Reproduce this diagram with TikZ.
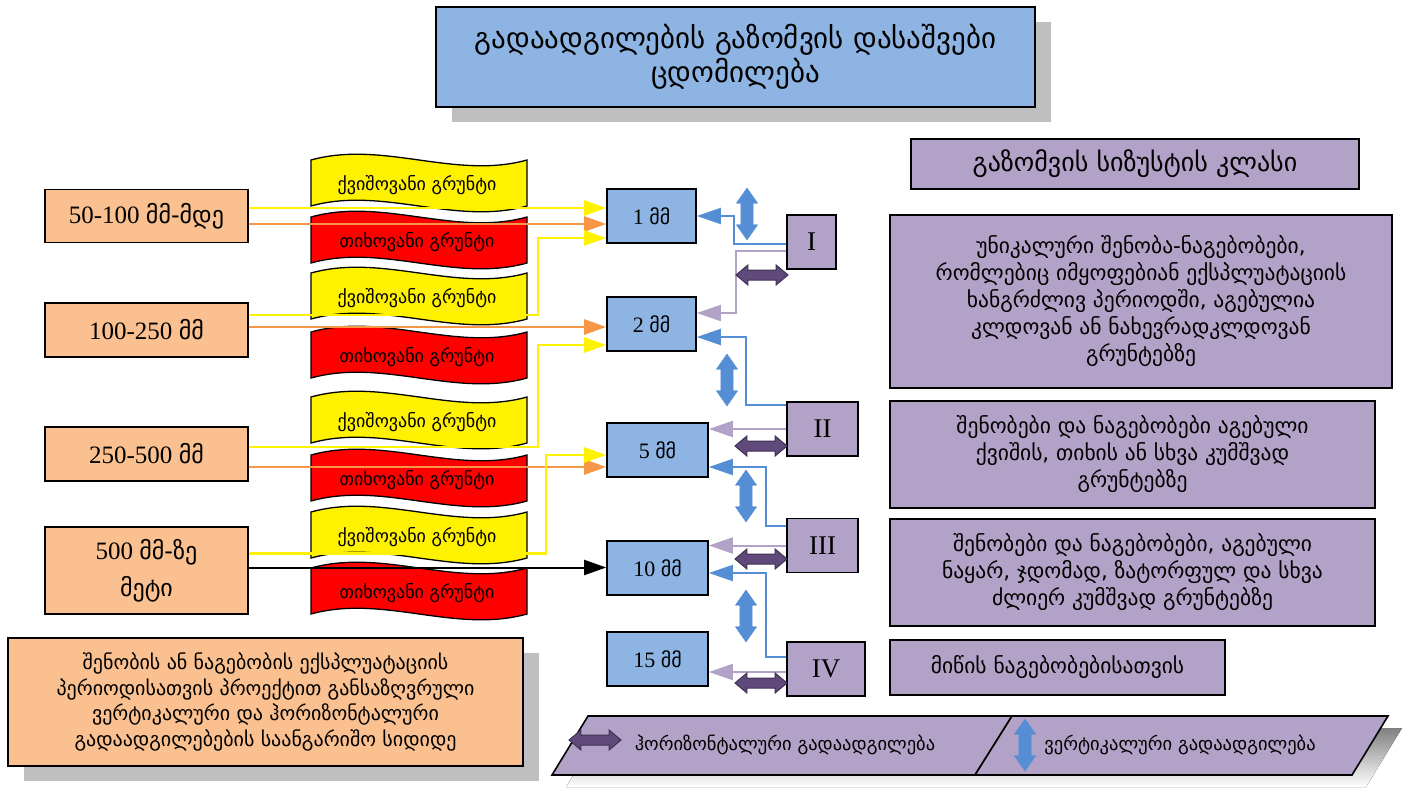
\documentclass[tikz,border=0pt]{standalone}
\usepackage{fontspec}
\setmainfont{Liberation Serif}
\newfontfamily\geo{DejaVu Sans}
\usetikzlibrary{arrows.meta,shapes.arrows,shadows}
\definecolor{skyfill}{RGB}{141,180,226}
\definecolor{peachfill}{RGB}{250,192,144}
\definecolor{lavfill}{RGB}{179,162,199}
\definecolor{lineblue}{RGB}{85,142,213}
\definecolor{lineorange}{RGB}{247,150,70}
\definecolor{darkpur}{RGB}{96,74,123}
\definecolor{darkpurline}{RGB}{63,49,81}
\definecolor{shade}{RGB}{191,191,191}
\newcommand\gm[2][20]{{\geo\fontsize{#1}{#1}\selectfont #2}}

\begin{document}
\begin{tikzpicture}[x=1pt,y=-1pt,
  box/.style={draw,line width=1.6pt,inner sep=0pt,align=center},
  shadowed/.style={drop shadow={shadow xshift=16pt,shadow yshift=-15pt,fill=shade,opacity=1}},
  rangebox/.style={box,fill=peachfill,minimum width=203pt,font=\fontsize{25}{37}\selectfont},
  mm/.style={box,fill=skyfill,minimum height=54pt,font=\fontsize{22}{24}\selectfont},
  cls/.style={box,fill=lavfill,minimum height=54pt,font=\fontsize{27}{29}\selectfont},
  desc/.style={box,fill=lavfill,font=\geo\fontsize{21.5}{27}\selectfont},
  wave/.style={draw,line width=1.3pt},
  soil/.style={font=\geo\fontsize{18}{20}\selectfont},
  leg/.style={font=\geo\fontsize{18.5}{20}\selectfont},
  yel/.style={yellow,line width=2.5pt,-{Triangle[length=22pt,width=15pt]}},
  ora/.style={lineorange,line width=2.5pt,-{Triangle[length=22pt,width=15pt]}},
  blk/.style={black,line width=2pt,-{Triangle[length=22pt,width=15pt]}},
  blu/.style={lineblue,line width=2pt,-{Triangle[length=24pt,width=16pt]}},
  lil/.style={lavfill,line width=2pt,-{Triangle[length=24pt,width=16pt]}},
  vmove/.style={double arrow,draw=lineblue,fill=lineblue,minimum width=0pt,minimum height=52pt,
    inner xsep=0pt,inner ysep=6pt,double arrow head extend=4.5pt,double arrow tip angle=70,rotate=90},
  hmove/.style={double arrow,draw=darkpurline,fill=darkpur,line width=1pt,minimum width=0pt,
    minimum height=52pt,inner xsep=0pt,inner ysep=4.5pt,double arrow head extend=5pt,double arrow tip angle=80}]
\useasboundingbox (0,0) rectangle (1407,787);

\node[box,fill=skyfill,shadowed,minimum width=599pt,minimum height=100pt,font=\geo\fontsize{29}{34}\selectfont] (title) at (735.5,57) {გადაადგილების გაზომვის დასაშვები\\ცდომილება};

\foreach \y/\c/\t [count=\i] in {183/yellow/ქვიშოვანი გრუნტი,240/red/თიხოვანი გრუნტი,296/yellow/ქვიშოვანი გრუნტი,355/red/თიხოვანი გრუნტი,420/yellow/ქვიშოვანი გრუნტი,478/red/თიხოვანი გრუნტი,535/yellow/ქვიშოვანი გრუნტი,591/red/თიხოვანი გრუნტი}{
  \draw[wave,fill=\c] (311,\y-23) .. controls (383,\y-43) and (455,\y-3) .. (527,\y-23) -- (527,\y+23) .. controls (455,\y+43) and (383,\y+3) .. (311,\y+23) -- cycle;
  \node[soil] (s\i) at (417,\y+2) {\t};
}

\node[rangebox,minimum height=53pt] (r50) at (146.5,216) {50-100\ \gm[24]{მმ-მდე}};
\node[rangebox,minimum height=54pt] (r100) at (146.5,330) {100-250\ \gm[24]{მმ}};
\node[rangebox,minimum height=54pt] (r250) at (146.5,454) {250-500\ \gm[24]{მმ}};
\node[rangebox,minimum height=87pt] (r500) at (146.5,570.5) {500\ \gm[24]{მმ-ზე}\\\gm[24]{მეტი}};

\node[mm,minimum width=89pt] (mm1) at (651.5,216) {1\ \gm{მმ}};
\node[mm,minimum width=89pt] (mm2) at (651.5,324) {2\ \gm{მმ}};
\node[mm,minimum width=101pt] (mm5) at (657.5,450) {5\ \gm{მმ}};
\node[mm,minimum width=101pt] (mm10) at (657.5,568) {10\ \gm{მმ}};
\node[mm,minimum width=101pt] (mm15) at (657.5,659) {15\ \gm{მმ}};

\node[cls,minimum width=49pt] (c1) at (811.5,242) {I};
\node[cls,minimum width=71pt] (c2) at (822.5,429) {II};
\node[cls,minimum width=71pt] (c3) at (822.5,545.5) {III};
\node[cls,minimum width=78pt] (c4) at (826,669) {IV};

\node[desc,minimum width=448pt,minimum height=50pt,font=\geo\fontsize{26}{28}\selectfont] (head) at (1135,164) {გაზომვის სიზუსტის კლასი};
\node[desc,minimum width=502pt,minimum height=173pt] (d1) at (1141,301.5) {უნიკალური შენობა-ნაგებობები,\\რომლებიც იმყოფებიან ექსპლუატაციის\\ხანგრძლივ პერიოდში, აგებულია\\კლდოვან ან ნახევრადკლდოვან\\გრუნტებზე};
\node[desc,minimum width=485pt,minimum height=107pt] (d2) at (1132.5,454.5) {შენობები და ნაგებობები აგებული\\ქვიშის, თიხის ან სხვა კუმშვად\\გრუნტებზე};
\node[desc,minimum width=485pt,minimum height=107pt] (d3) at (1132.5,572.5) {შენობები და ნაგებობები, აგებული\\ნაყარ, ჯდომად, ზატორფულ და სხვა\\ძლიერ კუმშვად გრუნტებზე};
\node[desc,minimum width=335pt,minimum height=55pt] (d4) at (1057.5,667.5) {მიწის ნაგებობებისათვის};

\node[box,fill=peachfill,shadowed,minimum width=515pt,minimum height=128pt,font=\geo\fontsize{20}{25.5}\selectfont] (note) at (265.5,702) {შენობის ან ნაგებობის ექსპლუატაციის\\პერიოდისათვის პროექტით განსაზღვრული\\ვერტიკალური და ჰორიზონტალური\\გადაადგილებების საანგარიშო სიდიდე};

\draw[yel] ([yshift=8pt]r50.east) -- ([yshift=8pt]r50.east -| mm1.west);
\draw[ora] ([yshift=-8pt]r50.east) -- ([yshift=-8pt]r50.east -| mm1.west);
\draw[yel] ([yshift=15pt]r100.east) -- ++(289,0) |- ([yshift=-22pt]mm1.west);
\draw[ora] ([yshift=3pt]r100.east) -- ([yshift=3pt]r100.east -| mm2.west);
\draw[yel] ([yshift=7pt]r250.east) -- ++(289,0) |- ([yshift=-21pt]mm2.west);
\draw[ora] ([yshift=-13pt]r250.east) -- ([yshift=-13pt]r250.east -| mm5.west);
\draw[yel] ([yshift=17pt]r500.east) -- ++(297,0) |- ([yshift=-5pt]mm5.west);
\draw[blk] ([yshift=3pt]r500.east) -- ([yshift=3pt]r500.east -| mm10.west);

\draw[blu] ([yshift=-2pt]c1.west) -- ++(-52,0) |- (mm1.east);
\draw[lil] ([yshift=-9pt]c1.west) -- ++(-50,0) |- ([yshift=11pt]mm2.east);
\draw[blu] ([yshift=24pt]c2.west) -- ++(-40,0) |- ([yshift=-13pt]mm2.east);
\draw[lil] (c2.west) -- (c2.west -| mm5.east);
\draw[blu] ([yshift=20pt]c3.west) -- ++(-20,0) |- ([yshift=-17pt]mm5.east);
\draw[lil] (c3.west) -- (c3.west -| mm10.east);
\draw[blu] ([yshift=12pt]c4.west) -- ++(-20,0) |- ([yshift=-5pt]mm10.east);
\draw[lil] ([yshift=-3pt]c4.west) -- ([yshift=-3pt]c4.west -| mm15.east);

\node[vmove] (v1) at (747,214) {};
\node[hmove] (h1) at (762,275) {};
\node[vmove] (v2) at (727,380) {};
\node[hmove] (h2) at (761,446) {};
\node[vmove] (v3) at (746,496) {};
\node[hmove] (h3) at (761,559) {};
\node[vmove] (v4) at (746,616) {};
\node[hmove] (h4) at (761,683) {};

\fill[shade] (566,787) -- (602,728) -- (1402,728) -- (1366,787) -- cycle;
\draw[line width=1.6pt,fill=lavfill] (552,775) -- (588,716) -- (1012,716) -- (975,775) -- cycle;
\draw[line width=1.6pt,fill=lavfill] (975,775) -- (1012,716) -- (1388,716) -- (1352,775) -- cycle;
\node[hmove] (lh) at (595,740) {};
\node[leg] (lht) at (785,745) {ჰორიზონტალური გადაადგილება};
\node[vmove] (lv) at (1025,745) {};
\node[leg] (lvt) at (1180,745) {ვერტიკალური გადაადგილება};
\end{tikzpicture}
\end{document}
